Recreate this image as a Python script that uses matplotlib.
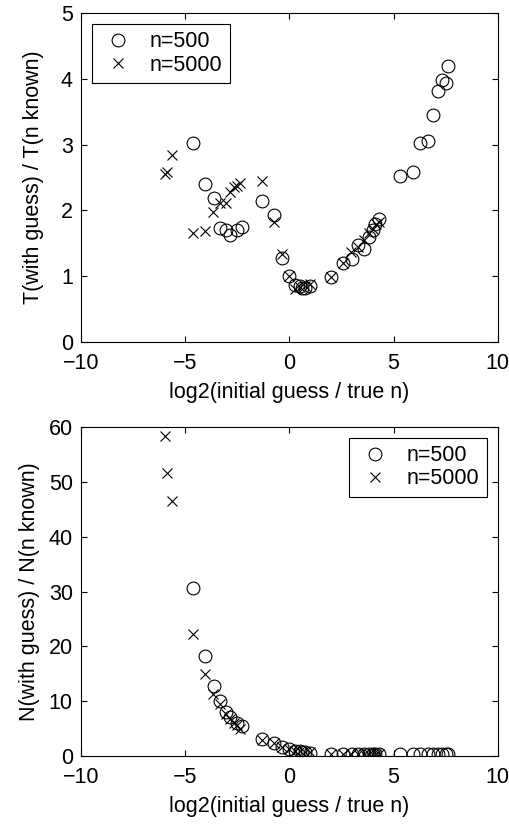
import matplotlib.pyplot as plt
import numpy as np

plt.rcParams['font.family'] = ['Liberation Sans', 'DejaVu Sans']
plt.rcParams['font.size'] = 15.5

# n=500 (circles)
x500 = [-4.65, -4.05, -3.62, -3.33, -3.05, -2.85, -2.50, -2.29, -1.33, -0.74,
        -0.34, 0.00, 0.26, 0.50, 0.60, 0.74, 0.98, 2.00, 2.58, 2.98,
        3.30, 3.60, 3.83, 4.00, 4.12, 4.31, 5.30, 5.91, 6.26, 6.66,
        6.90, 7.14, 7.30, 7.50, 7.62]
t500 = [3.02, 2.40, 2.19, 1.73, 1.70, 1.62, 1.70, 1.75, 2.15, 1.93,
        1.28, 1.00, 0.87, 0.85, 0.82, 0.82, 0.85, 0.99, 1.20, 1.26,
        1.47, 1.41, 1.60, 1.70, 1.80, 1.87, 2.52, 2.58, 3.03, 3.05,
        3.45, 3.81, 3.99, 3.94, 4.19]
n500 = [30.7, 18.2, 12.8, 10.0, 8.0, 7.1, 6.1, 5.4, 3.1, 2.3,
        1.6, 1.2, 1.0, 0.9, 0.8, 0.7, 0.6, 0.4, 0.4, 0.4,
        0.35, 0.35, 0.35, 0.35, 0.35, 0.35, 0.3, 0.3, 0.3, 0.3,
        0.3, 0.3, 0.3, 0.3, 0.3]

# n=5000 (crosses)
x5000 = [-5.97, -5.86, -5.65, -4.64, -4.05, -3.65, -3.33, -3.05, -2.85, -2.65,
         -2.53, -2.37, -1.33, -0.76, -0.34, 0.00, 0.26, 0.50, 0.74, 0.98,
         2.00, 2.58, 2.95, 3.30, 3.60, 3.83, 4.00, 4.15, 4.31]
t5000 = [2.55, 2.59, 2.84, 1.65, 1.69, 1.97, 2.12, 2.12, 2.28, 2.35,
         2.37, 2.42, 2.45, 1.83, 1.34, 1.00, 0.80, 0.84, 0.85, 0.88,
         0.99, 1.20, 1.37, 1.45, 1.55, 1.65, 1.72, 1.80, 1.83]
n5000 = [58.4, 51.6, 46.5, 22.3, 14.9, 11.4, 9.5, 7.6, 6.8, 6.0,
         5.6, 5.0, 3.0, 2.4, 1.6, 1.2, 1.0, 0.9, 0.8, 0.7,
         0.45, 0.4, 0.4, 0.4, 0.4, 0.4, 0.4, 0.4, 0.4]

fig = plt.figure(figsize=(5.1, 8.25), dpi=100)
ax1 = fig.add_axes([0.159, 0.5855, 0.817, 0.3985])
ax2 = fig.add_axes([0.159, 0.0836, 0.817, 0.3988])

circ = dict(linestyle='none', marker='o', markersize=9.2, markerfacecolor='none',
            markeredgecolor='black', markeredgewidth=0.8)
cross = dict(linestyle='none', marker='x', markersize=6.5, color='black',
             markeredgewidth=0.8)

for ax, y500, y5000 in [(ax1, t500, t5000), (ax2, n500, n5000)]:
    ax.plot(x500, y500, label='n=500', **circ)
    ax.plot(x5000, y5000, label='n=5000', **cross)
    ax.set_xlim(-10, 10)
    ax.set_xticks([-10, -5, 0, 5, 10])
    ax.set_xticklabels(['\u221210', '\u22125', '0', '5', '10'])
    ax.tick_params(direction='in', top=True, right=True, length=4, width=0.8)
    ax.tick_params(axis='x', pad=8)
    ax.tick_params(axis='y', pad=6)
    for s in ax.spines.values():
        s.set_linewidth(0.8)
    ax.set_xlabel('log2(initial guess / true n)', labelpad=6)

ax1.set_ylim(0, 5)
ax1.set_yticks([0, 1, 2, 3, 4, 5])
ax1.set_ylabel('T(with guess) / T(n known)', labelpad=12)
ax2.set_ylim(0, 60)
ax2.set_yticks([0, 10, 20, 30, 40, 50, 60])
ax2.set_ylabel('N(with guess) / N(n known)', labelpad=6)

for ax, loc in [(ax1, 'upper left'), (ax2, 'upper right')]:
    leg = ax.legend(loc=loc, fancybox=False, edgecolor='black', framealpha=1,
                    borderpad=0.35, handlelength=1.7, handletextpad=0.65,
                    labelspacing=0.1, borderaxespad=0.5)
    leg.get_frame().set_linewidth(0.8)

fig.savefig('out.png', dpi=100)
